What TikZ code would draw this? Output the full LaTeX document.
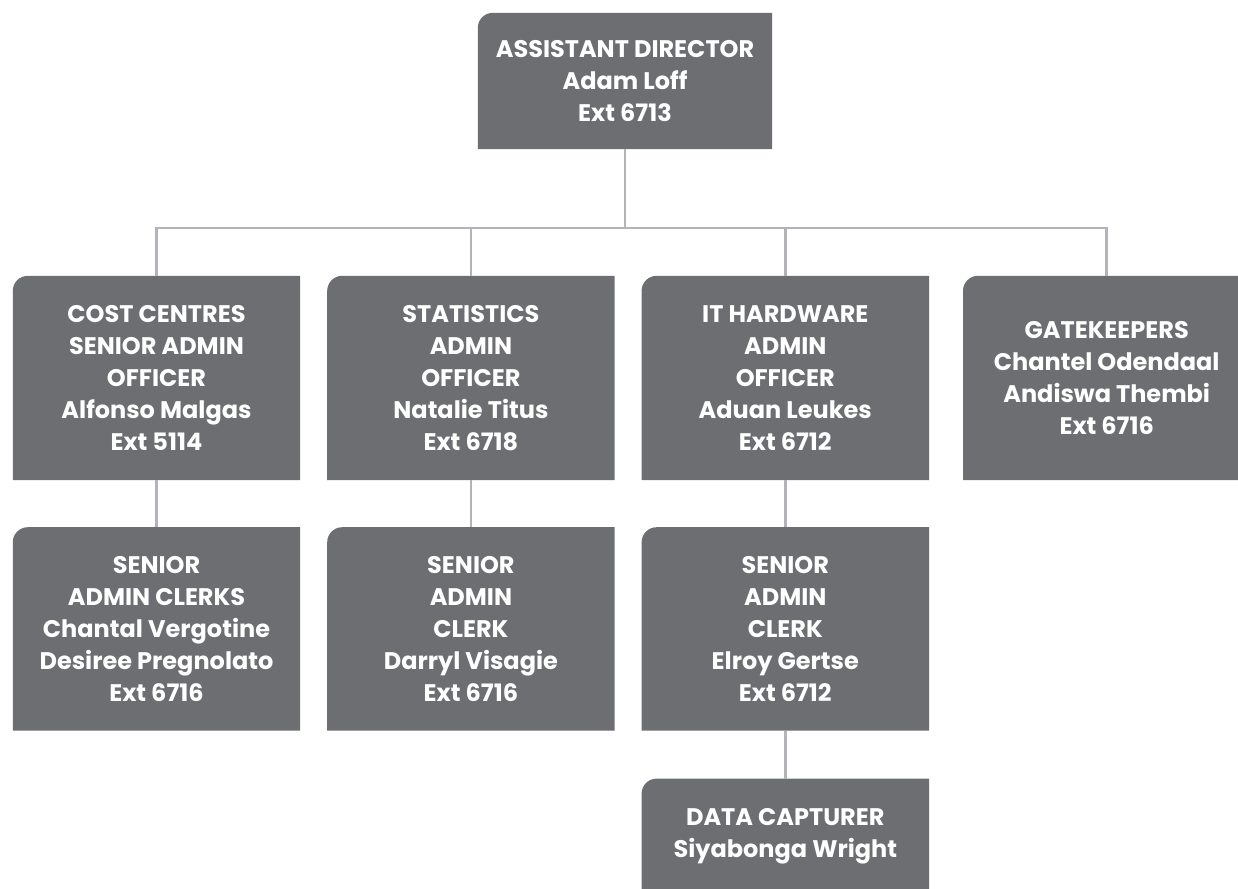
\documentclass[tikz,border=0pt]{standalone}
\usepackage{fontspec}
\setmainfont{Poppins}
\usepackage{tikz}
\usetikzlibrary{positioning, backgrounds}

\definecolor{boxgray}{HTML}{6D6E72}
\definecolor{linkgray}{HTML}{B4B4B8}

\begin{document}
\begin{tikzpicture}[x=1pt, y=-1pt,
    node distance=47pt and 27pt,
    unit/.style={minimum width=287pt, minimum height=204pt, inner sep=0pt, align=center, text=white, font=\fontsize{24}{32}\selectfont\bfseries},
    link/.style={draw=linkgray, line width=2.5pt}
]
    \useasboundingbox (0,0) rectangle (1238,888);
    \clip (0,0) rectangle (1238,888);

    % top
    \node[unit, minimum width=294pt, minimum height=136pt] (director) at (625,81) {ASSISTANT DIRECTOR\\Adam Loff\\Ext 6713};

    % first row
    \node[unit] (costcentres) at (156.5,378) {COST CENTRES\\SENIOR ADMIN\\OFFICER\\Alfonso Malgas\\Ext 5114};
    \node[unit, right=of costcentres] (statistics) {STATISTICS\\ADMIN\\OFFICER\\Natalie Titus\\Ext 6718};
    \node[unit, right=of statistics] (hardware) {IT HARDWARE\\ADMIN\\OFFICER\\Aduan Leukes\\Ext 6712};
    \node[unit, right=34pt of hardware] (gatekeepers) {GATEKEEPERS\\Chantel Odendaal\\Andiswa Thembi\\Ext 6716};

    % second row
    \node[unit, minimum height=203pt, below=of costcentres] (costclerks) {SENIOR\\ADMIN CLERKS\\Chantal Vergotine\\Desiree Pregnolato\\Ext 6716};
    \node[unit, minimum height=203pt, below=of statistics] (statclerk) {SENIOR\\ADMIN\\CLERK\\Darryl Visagie\\Ext 6716};
    \node[unit, minimum height=203pt, below=of hardware] (hwclerk) {SENIOR\\ADMIN\\CLERK\\Elroy Gertse\\Ext 6712};

    % third row
    \node[unit, minimum height=114pt, below=48pt of hwclerk] (capturer) {DATA CAPTURER\\Siyabonga Wright};

    % boxes, top left corner rounded
    \begin{scope}[on background layer]
        \foreach \n in {director, costcentres, statistics, hardware, gatekeepers, costclerks, statclerk, hwclerk, capturer}
            \fill[boxgray] (\n.south west) -- ([yshift=-15pt]\n.north west) arc[start angle=180, end angle=90, radius=15pt] -- (\n.north east) -- (\n.south east) -- cycle;
    \end{scope}

    \coordinate (bus) at (625,228);
    \draw[link] (director.south) -- (bus);
    \draw[link] (costcentres.north) |- (bus) -| (gatekeepers.north);
    \draw[link] (statistics.north) -- (statistics.north |- bus);
    \draw[link] (hardware.north) -- (hardware.north |- bus);
    \draw[link] (costcentres) -- (costclerks);
    \draw[link] (statistics) -- (statclerk);
    \draw[link] (hardware) -- (hwclerk);
    \draw[link] (hwclerk) -- (capturer);

\end{tikzpicture}
\end{document}
